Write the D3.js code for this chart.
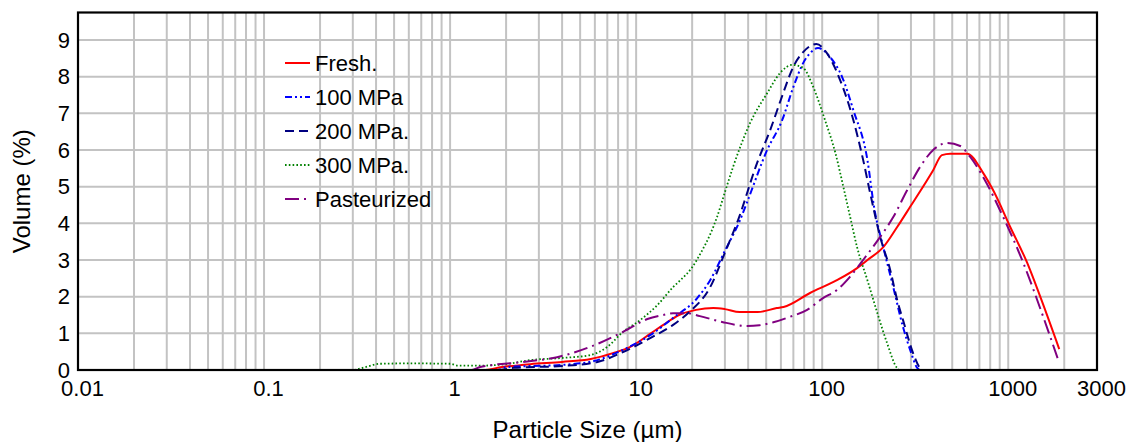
<!DOCTYPE html>
<html>
<head>
<meta charset="utf-8">
<script src="https://cdn.jsdelivr.net/npm/d3@7"></script>
<style>
  body { margin: 0; background: #fff; }
  svg text { font-family: "Liberation Sans", Arial, sans-serif; fill: #000; }
</style>
</head>
<body>
<div id="chart"></div>
<script>
// particle size (µm) and volume (%) per sample
const freshSize = [0.02, 1.5, 1.9, 2.7, 4, 5.7, 7.5, 9.3, 12, 14, 17, 21, 26, 30, 36, 45, 57, 62, 86, 120, 154, 175, 213, 253, 297, 395, 440, 488, 602, 734, 830, 1025, 1265, 1486, 1880];
const freshVol  = [0, 0, 0.08, 0.16, 0.22, 0.3, 0.46, 0.63, 1.0, 1.23, 1.5, 1.64, 1.69, 1.66, 1.58, 1.58, 1.69, 1.72, 2.1, 2.45, 2.78, 3.0, 3.35, 3.9, 4.45, 5.45, 5.86, 5.9, 5.9, 5.37, 4.9, 3.9, 2.92, 2.0, 0.57];

const mpa100Size = [0.02, 1.8, 2.0, 4.05, 6.2, 8.5, 11.9, 15.8, 21.3, 25, 30, 36.2, 39.5, 50.6, 61, 70, 79, 86, 95, 110, 128, 147, 175, 190, 213, 241, 272, 297, 325, 335, 1880];
const mpa100Vol  = [0, 0, 0.08, 0.14, 0.27, 0.55, 0.95, 1.42, 1.96, 2.45, 3.25, 4.09, 4.58, 6.0, 6.82, 7.72, 8.37, 8.64, 8.78, 8.54, 7.99, 7.09, 5.73, 4.45, 3.35, 2.26, 1.17, 0.55, 0.05, 0, 0];

const mpa200Size = [0.02, 1.8, 2.2, 4.05, 6.2, 8.5, 11.9, 15.8, 19.3, 25, 30, 35.3, 44.7, 52.5, 61.7, 69.8, 79, 93, 106, 125, 147, 166, 181, 205, 232, 253, 272, 308, 336, 345, 1880];
const mpa200Vol  = [0, 0, 0.06, 0.11, 0.22, 0.49, 0.87, 1.23, 1.58, 2.26, 3.2, 4.09, 5.65, 6.54, 7.55, 8.26, 8.67, 8.89, 8.64, 7.9, 6.82, 5.73, 4.83, 3.63, 2.73, 1.91, 1.36, 0.46, 0.05, 0, 0];

const mpa300Size = [0.02, 0.3, 0.35, 0.42, 0.6, 1.0, 1.1, 1.5, 2.0, 2.7, 4.05, 5.7, 7, 8.5, 10.5, 13, 15.8, 17.3, 20, 22.3, 25, 27.2, 30, 33.2, 41, 50.6, 59.4, 69, 79, 89.5, 103, 118, 130, 141, 154, 175, 198, 223, 253, 260, 1880];
const mpa300Vol  = [0, 0, 0.08, 0.17, 0.18, 0.17, 0.12, 0.12, 0.16, 0.27, 0.33, 0.41, 0.63, 1.04, 1.36, 1.77, 2.26, 2.45, 2.8, 3.2, 3.7, 4.17, 4.85, 5.54, 6.74, 7.55, 8.1, 8.32, 8.24, 7.72, 6.85, 5.9, 4.99, 4.2, 3.35, 2.45, 1.55, 0.74, 0.05, 0, 0];

const pastSize = [0.02, 1.3, 1.45, 2.47, 3.76, 5.66, 8.5, 11.5, 14, 15.8, 18.8, 22, 29, 39.5, 46, 54.6, 67, 83, 101, 120, 141, 166, 205, 241, 286, 336, 395, 470, 552, 625, 734, 940, 1205, 1542, 1858];
const pastVol  = [0, 0, 0.08, 0.22, 0.35, 0.63, 1.04, 1.39, 1.5, 1.55, 1.55, 1.47, 1.31, 1.2, 1.22, 1.3, 1.45, 1.64, 1.96, 2.18, 2.54, 3.0, 3.63, 4.17, 4.9, 5.54, 6.0, 6.19, 6.11, 5.81, 5.26, 4.17, 2.92, 1.45, 0.27];

const seriesNames = ["Fresh.", "100 MPa", "200 MPa.", "300 MPa.", "Pasteurized"];
const xTicks = [0.01, 0.1, 1, 10, 100, 1000, 3000];
const xTickLabels = ["0.01", "0.1", "1", "10", "100", "1000", "3000"];
const yTicks = [0, 1, 2, 3, 4, 5, 6, 7, 8, 9];

const width = 1135;
const height = 442;
const margin = { top: 12.5, right: 38, bottom: 72, left: 78 };

const styles = [
  { color: "#ff0000", dash: null, w: 2 },
  { color: "#0000ff", dash: "7,3,2,3,2,3", w: 2 },
  { color: "#000080", dash: "9,5", w: 2 },
  { color: "#008000", dash: "1.6,2.2", w: 1.8 },
  { color: "#800080", dash: "14,5,2,5", w: 2 }
];

const series = [
  d3.zip(freshSize, freshVol),
  d3.zip(mpa100Size, mpa100Vol),
  d3.zip(mpa200Size, mpa200Vol),
  d3.zip(mpa300Size, mpa300Vol),
  d3.zip(pastSize, pastVol)
];

const x = d3.scaleLog().domain([0.01, 3000]).range([margin.left, width - margin.right]);
const y = d3.scaleLinear().domain([0, 9.75]).range([height - margin.bottom, margin.top]);

const svg = d3.select("#chart").append("svg")
  .attr("width", width)
  .attr("height", height);

// grid: every 1..9 of each decade
const gridX = [];
for (let p = -2; p <= 3; p++) {
  for (let k = 1; k <= 9; k++) {
    const v = k * Math.pow(10, p);
    if (v > 0.0100001 && v < 2999) gridX.push(v);
  }
}

const grid = svg.append("g").attr("stroke", "#c3c3c3").attr("stroke-width", 2);
grid.selectAll("line.vx")
  .data(gridX)
  .enter().append("line")
  .attr("x1", d => x(d)).attr("x2", d => x(d))
  .attr("y1", y(9.75)).attr("y2", y(0));
grid.selectAll("line.hy")
  .data(yTicks.filter(d => d > 0))
  .enter().append("line")
  .attr("x1", x(0.01)).attr("x2", x(3000))
  .attr("y1", d => y(d)).attr("y2", d => y(d));

// axes (labels only; frame is drawn below)
const xAxis = d3.axisBottom(x)
  .tickValues(xTicks)
  .tickFormat((d, i) => xTickLabels[i])
  .tickSize(0)
  .tickPadding(10);
const gx = svg.append("g")
  .attr("transform", `translate(4,${y(0)})`)
  .call(xAxis);
gx.select(".domain").remove();
gx.selectAll("text").attr("font-size", 22).attr("font-family", "Liberation Sans, Arial, sans-serif");

const yAxis = d3.axisLeft(y).tickValues(yTicks).tickSize(0).tickPadding(8);
const gy = svg.append("g")
  .attr("transform", `translate(${x(0.01)},0)`)
  .call(yAxis);
gy.select(".domain").remove();
gy.selectAll("text").attr("font-size", 22).attr("font-family", "Liberation Sans, Arial, sans-serif");

// lines
const line = d3.line()
  .x(d => x(d[0]))
  .y(d => y(d[1]))
  .curve(d3.curveMonotoneX);

svg.append("g")
  .selectAll("path")
  .data(series)
  .enter().append("path")
  .attr("d", line)
  .attr("fill", "none")
  .attr("stroke", (d, i) => styles[i].color)
  .attr("stroke-width", (d, i) => styles[i].w)
  .attr("stroke-dasharray", (d, i) => styles[i].dash);

// frame
svg.append("rect")
  .attr("x", x(0.01)).attr("y", y(9.75))
  .attr("width", x(3000) - x(0.01))
  .attr("height", y(0) - y(9.75))
  .attr("fill", "none")
  .attr("stroke", "#000")
  .attr("stroke-width", 2.2);

// legend
const legend = svg.append("g").attr("transform", "translate(285,63)");
const rows = legend.selectAll("g")
  .data(seriesNames)
  .enter().append("g")
  .attr("transform", (d, i) => `translate(0,${i * 34})`);
rows.append("line")
  .attr("x1", 0).attr("x2", 25)
  .attr("stroke", (d, i) => styles[i].color)
  .attr("stroke-width", (d, i) => styles[i].w)
  .attr("stroke-dasharray", (d, i) => styles[i].dash);
rows.append("text")
  .attr("x", 30)
  .attr("dy", "0.36em")
  .attr("font-size", 22)
  .text(d => d);

// axis titles
svg.append("text")
  .attr("x", (x(0.01) + x(3000)) / 2)
  .attr("y", 438)
  .attr("text-anchor", "middle")
  .attr("font-size", 24)
  .text("Particle Size (µm)");

svg.append("text")
  .attr("transform", `translate(30,${(y(0) + y(9.75)) / 2}) rotate(-90)`)
  .attr("text-anchor", "middle")
  .attr("font-size", 24)
  .text("Volume (%)");
</script>
</body>
</html>
